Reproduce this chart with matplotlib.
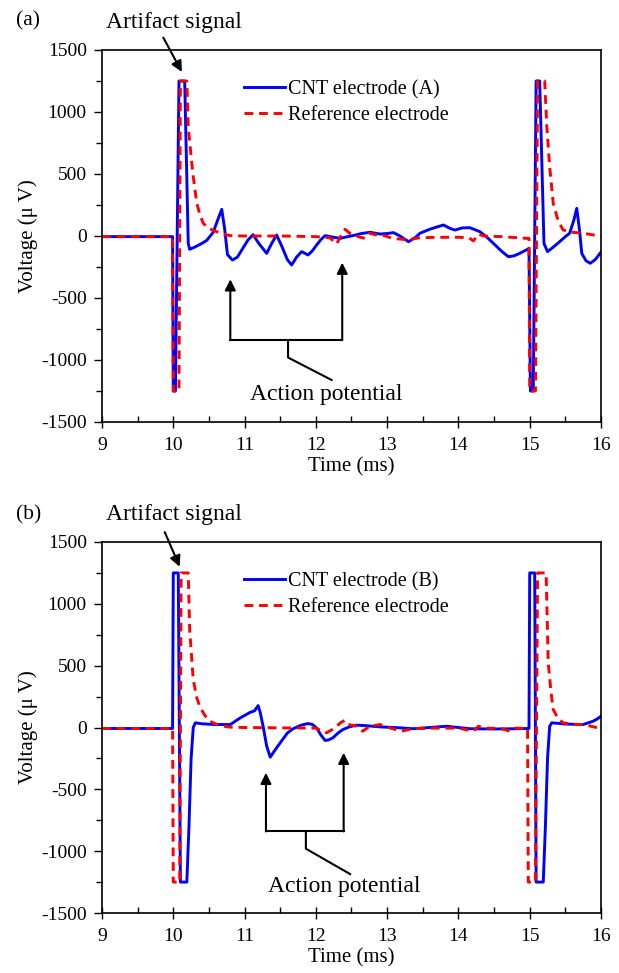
import numpy as np
import matplotlib
matplotlib.use('Agg')
import matplotlib.pyplot as plt
from matplotlib.ticker import MultipleLocator

plt.rcParams['font.family'] = ['Liberation Serif', 'DejaVu Serif']
plt.rcParams['axes.unicode_minus'] = False

# Panel (a): CNT electrode (A) and reference
t_a_cnt = [9.0, 9.99, 10.00, 10.03, 10.08, 10.16, 10.21, 10.23, 10.30, 10.40, 10.47, 10.56, 10.63, 10.68,
           10.72, 10.76, 10.83, 10.90, 10.98, 11.05, 11.12, 11.20, 11.31, 11.38, 11.45, 11.52, 11.60,
           11.66, 11.73, 11.80, 11.89, 11.95, 12.01, 12.07, 12.13, 12.25, 12.34, 12.45, 12.52, 12.64,
           12.76, 12.90, 13.00, 13.09, 13.18, 13.30, 13.40, 13.46, 13.60, 13.79, 13.88, 13.95, 14.05,
           14.16, 14.30, 14.40, 14.49, 14.60, 14.70, 14.78, 14.86, 14.97, 14.99, 15.01, 15.05, 15.09,
           15.14, 15.20, 15.25, 15.33, 15.42, 15.50, 15.56, 15.62, 15.66, 15.70, 15.73, 15.79, 15.85,
           15.92, 16.0]
v_a_cnt = [-5, -5, -1250, -1250, 1250, 1250, -60, -107, -90, -60, -35, 30, 140, 215,
           60, -150, -194, -170, -95, -30, 10, -60, -140, -60, 8, -80, -190,
           -234, -170, -126, -153, -120, -73, -30, 3, -10, -19, -5, 3, 20,
           30, 16, 20, 27, 0, -46, -10, 22, 55, 89, 62, 48, 65,
           67, 35, -10, -59, -120, -167, -160, -140, -107, -107, -1250, -1250, 1250,
           1250, -60, -126, -90, -46, -5, 22, 130, 223, 40, -140, -200, -220,
           -190, -130]

t_a_ref = [9.0, 9.99, 10.00, 10.08, 10.10, 10.19, 10.21, 10.25, 10.28, 10.33, 10.37, 10.42, 10.50, 10.61,
           10.70, 10.80, 11.0, 11.5, 12.0, 12.20, 12.29, 12.34, 12.41, 12.48, 12.55, 12.62, 12.69,
           12.76, 12.83, 12.90, 13.08, 13.28, 13.45, 13.65, 14.0, 14.15, 14.21, 14.28, 14.35, 14.6,
           14.96, 14.99, 15.00, 15.08, 15.11, 15.21, 15.24, 15.28, 15.33, 15.40, 15.47, 15.60, 15.75,
           15.90, 16.0]
v_a_ref = [-5, -5, -1250, -1250, 1250, 1250, 881, 640, 478, 263, 180, 102, 60, 35,
           15, 3, 0, 0, -5, -15, -65, -10, 54, 20, 5, -10, -19,
           22, 10, 13, -19, -30, -15, -11, -10, -15, -40, 16, 0, -5,
           -19, -19, -1250, -1250, 1250, 1250, 881, 560, 263, 120, 48, 30, 22,
           8, 0]

# Panel (b): CNT electrode (B) and reference
t_b_cnt = [9.0, 9.99, 10.00, 10.07, 10.10, 10.19, 10.22, 10.25, 10.28, 10.31, 10.40, 10.55, 10.70, 10.80,
           10.94, 11.08, 11.14, 11.19, 11.22, 11.26, 11.31, 11.36, 11.43, 11.50, 11.60, 11.68, 11.80,
           11.89, 11.95, 12.01, 12.07, 12.13, 12.18, 12.24, 12.31, 12.38, 12.47, 12.57, 12.70, 12.90,
           13.10, 13.37, 13.60, 13.83, 14.00, 14.16, 14.5, 14.8, 14.99, 15.00, 15.07, 15.09, 15.19,
           15.22, 15.25, 15.28, 15.31, 15.50, 15.75, 15.89, 15.95, 16.0]
v_b_cnt = [-8, -8, 1250, 1250, -1250, -1250, -800, -250, 0, 38, 30, 25, 24, 24,
           78, 123, 135, 177, 120, 10, -150, -240, -180, -124, -45, -10, 20,
           32, 25, -3, -60, -105, -100, -83, -45, -16, 5, 19, 15, 5,
           0, -10, 0, 10, 0, -10, -12, -10, -8, 1250, 1250, -1250, -1250,
           -800, -250, 10, 38, 28, 24, 51, 70, 91]

t_b_ref = [9.0, 9.99, 10.00, 10.09, 10.11, 10.21, 10.23, 10.28, 10.33, 10.37, 10.44, 10.51, 10.65, 10.80,
           11.0, 11.5, 12.0, 12.15, 12.25, 12.35, 12.41, 12.48, 12.55, 12.66, 12.75, 12.90, 13.05,
           13.2, 13.35, 13.6, 14.0, 14.21, 14.28, 14.4, 14.6, 14.72, 14.80, 14.97, 14.98, 15.08,
           15.11, 15.23, 15.26, 15.30, 15.33, 15.40, 15.47, 15.60, 15.75, 15.90, 16.0]
v_b_ref = [-8, -8, -1250, -1250, 1250, 1250, 790, 387, 240, 172, 100, 51, 15, 3,
           0, -3, -5, -43, -10, 40, 59, 20, 15, -30, 10, 24, -5,
           -30, -10, -5, -5, -30, 10, -5, -8, -30, -5, -8, -1250, -1250,
           1250, 1250, 522, 280, 145, 70, 38, 25, 24, 5, -10]

xticks = [9, 10, 11, 12, 13, 14, 15, 16]
yticks = [-1500, -1000, -500, 0, 500, 1000, 1500]

W, H = 619, 973
fig = plt.figure(figsize=(W / 100, H / 100), dpi=100)

panels = [
    dict(rect=[102 / W, 1 - 422 / H, 499 / W, 372 / H], tc=t_a_cnt, vc=v_a_cnt, tr=t_a_ref, vr=v_a_ref,
         label='(a)', lab_y=21, name='CNT electrode (A)',
         art_head=(10.12, 1323), art_tail=(9.86, 1600), art_text=(10.01, 1720),
         ap_left=(10.80, -349), ap_right=(12.37, -215), ap_mid=11.61, ap_end=(12.22, -1161),
         ap_text=(12.15, -1280)),
    dict(rect=[102 / W, 1 - 913 / H, 499 / W, 371 / H], tc=t_b_cnt, vc=v_b_cnt, tr=t_b_ref, vr=v_b_ref,
         label='(b)', lab_y=515, name='CNT electrode (B)',
         art_head=(10.09, 1300), art_tail=(9.88, 1580), art_text=(10.01, 1720),
         ap_left=(11.30, -366), ap_right=(12.39, -204), ap_mid=11.86, ap_end=(12.48, -1185),
         ap_text=(12.40, -1285)),
]

for p in panels:
    ax = fig.add_axes(p['rect'])
    ax.plot(p['tc'], p['vc'], color='#0000ff', lw=2.1, label=p['name'])
    ax.plot(p['tr'], p['vr'], color='#ff0000', lw=2.1, linestyle=(0, (3, 2)), label='Reference electrode')
    ax.set_xlim(9, 16)
    ax.set_ylim(-1500, 1500)
    ax.set_xticks(xticks)
    ax.set_yticks(yticks)
    ax.xaxis.set_minor_locator(MultipleLocator(0.5))
    ax.yaxis.set_minor_locator(MultipleLocator(250))
    ax.tick_params(axis='x', which='major', direction='inout', length=8, width=1, labelsize=14, pad=7)
    ax.tick_params(axis='x', which='minor', direction='in', length=4, width=1)
    ax.tick_params(axis='y', which='major', direction='out', length=6, width=1, labelsize=14, pad=5)
    ax.tick_params(axis='y', which='minor', direction='out', length=4, width=1)
    for s in ax.spines.values():
        s.set_linewidth(1.2)
    ax.set_xlabel('Time (ms)', fontsize=15, labelpad=2)
    ax.set_ylabel('Voltage (\u03bc V)', fontsize=15, labelpad=2)

    ax.legend(loc='upper left', bbox_to_anchor=(0.257, 0.957), frameon=False, fontsize=14.5,
              handlelength=2.0, handletextpad=0.15, labelspacing=0.35, borderpad=0.2)

    # Artifact signal arrow
    ax.annotate('', xy=p['art_head'], xytext=p['art_tail'], annotation_clip=False,
                arrowprops=dict(arrowstyle='-|>', color='k', lw=1.5, mutation_scale=16,
                                shrinkA=0, shrinkB=0))
    ax.text(p['art_text'][0], p['art_text'][1], 'Artifact signal', fontsize=17,
            ha='center', va='center', clip_on=False)
    fig.text(16 / W, 1 - p['lab_y'] / H, p['label'], fontsize=15.5, ha='left', va='center')

    # Action potential bracket
    yb = -840
    for (xa, ya) in (p['ap_left'], p['ap_right']):
        ax.annotate('', xy=(xa, ya), xytext=(xa, yb),
                    arrowprops=dict(arrowstyle='-|>', color='k', lw=1.5, mutation_scale=16,
                                    shrinkA=0, shrinkB=0))
    ax.plot([p['ap_left'][0], p['ap_right'][0]], [yb, yb], color='k', lw=1.5)
    ax.plot([p['ap_mid'], p['ap_mid'], p['ap_end'][0]], [yb, -980, p['ap_end'][1]], color='k', lw=1.5)
    ax.text(p['ap_text'][0], p['ap_text'][1], 'Action potential', fontsize=17, ha='center', va='center')

fig.savefig('out.png', dpi=100)
